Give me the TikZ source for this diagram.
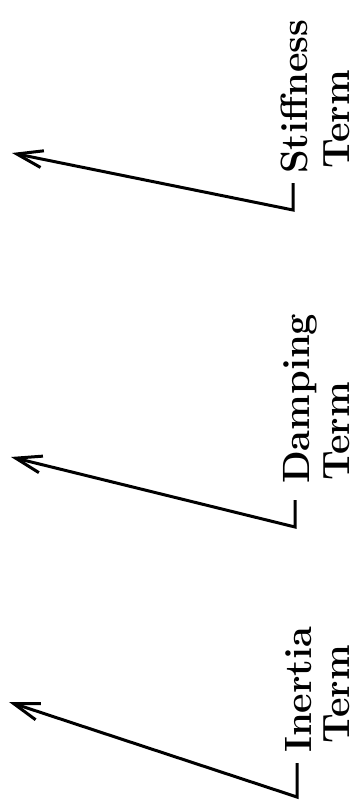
\documentclass[tikz,border=0pt]{standalone}
\usetikzlibrary{arrows.meta}
\begin{document}
\begin{tikzpicture}[x=1pt,y=-1pt,
  lbl/.style={rotate=90,anchor=base west,inner sep=0pt,font=\fontsize{38}{38}\selectfont\bfseries},
  lead/.style={line width=3pt,-{Straight Barb[length=26pt,width=17pt,line width=3pt]}}]
\useasboundingbox (0,0) rectangle (356,803);
% Stiffness
\node[lbl] (s1) at (307,174) {Stiffness};
\node[lbl] (s2) at (349,169) {Term};
\coordinate (sa) at (293,183);
\coordinate (sc) at (293,210);
\coordinate (st) at (12,153);
\draw[lead] (sa) -- (sc) -- (st);
% Damping
\node[lbl] (d1) at (309,484) {Damping};
\node[lbl] (d2) at (349,481) {Term};
\coordinate (da) at (295,500);
\coordinate (dc) at (295,527);
\coordinate (dt) at (11,457);
\draw[lead] (da) -- (dc) -- (dt);
% Inertia
\node[lbl] (i1) at (311,753) {Inertia};
\node[lbl] (i2) at (349,744) {Term};
\coordinate (ia) at (297,763);
\coordinate (ic) at (297,797);
\coordinate (it) at (9,702);
\draw[lead] (ia) -- (ic) -- (it);
\end{tikzpicture}
\end{document}
